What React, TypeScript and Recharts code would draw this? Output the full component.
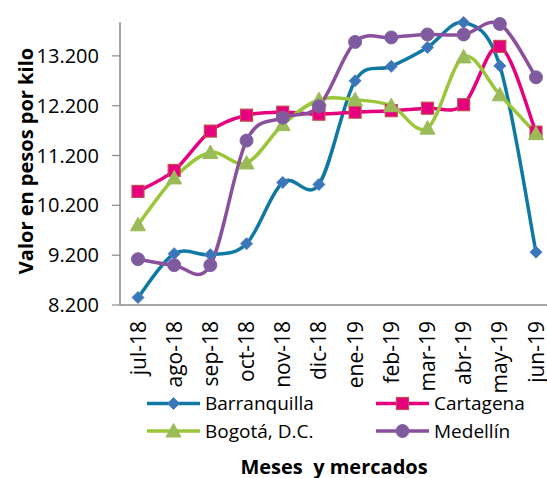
import { LineChart, Line, XAxis, YAxis, Legend, Label } from 'recharts';

const months = ['jul-18', 'ago-18', 'sep-18', 'oct-18', 'nov-18', 'dic-18', 'ene-19', 'feb-19', 'mar-19', 'abr-19', 'may-19', 'jun-19'];
const barranquilla = [8350, 9230, 9210, 9430, 10660, 10620, 12700, 12990, 13370, 13870, 13000, 9260];
const cartagena = [10480, 10900, 11690, 12010, 12070, 12030, 12070, 12100, 12150, 12220, 13390, 11670];
const bogota = [9810, 10750, 11260, 11050, 11820, 12320, 12320, 12200, 11750, 13180, 12420, 11640];
const medellin = [9120, 9000, 9000, 11500, 11960, 12190, 13480, 13570, 13630, 13630, 13840, 12770];
const yTicks = [8200, 9200, 10200, 11200, 12200, 13200];

const FONT = '"Open Sans", sans-serif';

const data = months.map((m, i) => ({
  month: m,
  barranquilla: barranquilla[i],
  cartagena: cartagena[i],
  bogota: bogota[i],
  medellin: medellin[i],
}));

const fmt = (v: number) => String(v).replace(/\B(?=(\d{3})+(?!\d))/g, '.');

// catmull-rom like smoothing, close to excel's smoothed lines
const smooth = (context: any) => {
  let xs: number[] = [];
  let ys: number[] = [];
  return {
    areaStart() {},
    areaEnd() {},
    lineStart() {
      xs = [];
      ys = [];
    },
    point(x: number, y: number) {
      xs.push(+x);
      ys.push(+y);
    },
    lineEnd() {
      const n = xs.length;
      if (!n) return;
      context.moveTo(xs[0], ys[0]);
      for (let i = 0; i < n - 1; i++) {
        const a = Math.max(i - 1, 0);
        const d = Math.min(i + 2, n - 1);
        context.bezierCurveTo(
          xs[i] + (xs[i + 1] - xs[a]) / 6,
          ys[i] + (ys[i + 1] - ys[a]) / 6,
          xs[i + 1] - (xs[d] - xs[i]) / 6,
          ys[i + 1] - (ys[d] - ys[i]) / 6,
          xs[i + 1],
          ys[i + 1]
        );
      }
    },
  };
};

const Marker = ({ kind, cx, cy, fill, stroke }: any) => {
  if (kind === 'diamond') {
    const r = 6;
    return <path d={`M${cx},${cy - r}L${cx + r},${cy}L${cx},${cy + r}L${cx - r},${cy}Z`} fill={fill} stroke={stroke} strokeWidth={1} />;
  }
  if (kind === 'square') {
    const r = 6;
    return <rect x={cx - r} y={cy - r} width={2 * r} height={2 * r} fill={fill} stroke={stroke} strokeWidth={1.2} />;
  }
  if (kind === 'triangle') {
    const r = 7.5;
    return <path d={`M${cx},${cy - r}L${cx + r},${cy + r * 0.8}L${cx - r},${cy + r * 0.8}Z`} fill={fill} stroke={stroke} strokeWidth={1} />;
  }
  return <circle cx={cx} cy={cy} r={6.5} fill={fill} stroke={stroke} strokeWidth={1} />;
};

const series = [
  { key: 'barranquilla', name: 'Barranquilla', color: '#0f79a3', fill: '#3b76ba', stroke: '#4f81bd', kind: 'diamond' },
  { key: 'cartagena', name: 'Cartagena', color: '#e6007e', fill: '#e6007e', stroke: '#c0504d', kind: 'square' },
  { key: 'bogota', name: 'Bogotá, D.C.', color: '#9cc639', fill: '#9bbb59', stroke: '#9bbb59', kind: 'triangle' },
  { key: 'medellin', name: 'Medellín', color: '#8a4f9d', fill: '#7f5a9f', stroke: '#8064a2', kind: 'circle' },
];

const MonthTick = ({ x, y, payload }: any) => (
  <g transform={`translate(${x},${y})`}>
    <text transform="rotate(-90)" textAnchor="end" dy="0.36em" fontSize={21} fontFamily={FONT} fill="#000">
      {payload.value}
    </text>
  </g>
);

const legendPos = [
  { x: 147, y: 25.5 },
  { x: 376, y: 25.5 },
  { x: 147, y: 53 },
  { x: 376, y: 53 },
];

const LegendBox = () => (
  <svg width={547} height={100} style={{ display: 'block' }}>
    {series.map((s, i) => {
      const p = legendPos[i];
      return (
        <g key={s.key}>
          <line x1={p.x} x2={p.x + 53} y1={p.y} y2={p.y} stroke={s.color} strokeWidth={3.5} />
          <Marker kind={s.kind} cx={p.x + 26.5} cy={p.y} fill={s.fill} stroke={s.stroke} />
          <text x={p.x + 58} y={p.y} dy="0.36em" fontSize={19} fontFamily={FONT} fill="#000">
            {s.name}
          </text>
        </g>
      );
    })}
    <text x={334} y={96} textAnchor="middle" fontSize={20} fontWeight="bold" fontFamily={FONT} fill="#000" style={{ whiteSpace: 'pre' }}>
      {'Meses  y mercados'}
    </text>
  </svg>
);

const YTitle = (props: any) => {
  const vb = props.viewBox || { x: 0, y: 0, height: 0 };
  const x = vb.x + 26;
  const y = vb.y + vb.height / 2 - 2.5;
  return (
    <text x={x} y={y} transform={`rotate(-90 ${x} ${y})`} textAnchor="middle" dy="0.36em" fontSize={20} fontWeight="bold" fontFamily={FONT} fill="#000">
      Valor en pesos por kilo
    </text>
  );
};

export default function App() {
  return (
    <div style={{ position: 'absolute', left: 0, top: 0, width: 547, height: 478, overflow: 'hidden', background: '#fff' }}>
      <LineChart width={560} height={478} data={data} margin={{ top: 22, right: 6, bottom: 0, left: 0 }}>
        <XAxis
          dataKey="month"
          interval={0}
          padding={{ left: 18, right: 18 }}
          tickLine={false}
          tickSize={0}
          tickMargin={16}
          height={73}
          tick={<MonthTick />}
          axisLine={{ stroke: '#8a8a8a', strokeWidth: 1.5 }}
        />
        <YAxis
          width={120}
          domain={[8200, 13880]}
          ticks={yTicks}
          interval={0}
          tickFormatter={fmt}
          tickSize={8}
          tickMargin={13}
          tick={{ fontSize: 20, fill: '#000', fontFamily: FONT }}
          tickLine={{ stroke: '#8a8a8a', strokeWidth: 1.2 }}
          axisLine={{ stroke: '#8a8a8a', strokeWidth: 1.5 }}
        >
          <Label content={<YTitle />} />
        </YAxis>
        <Legend verticalAlign="bottom" align="left" height={100} wrapperStyle={{ left: 0, width: 547 }} content={() => <LegendBox />} />
        {series.map((s) => (
          <Line
            key={s.key}
            dataKey={s.key}
            name={s.name}
            type={smooth as any}
            stroke={s.color}
            strokeWidth={3.5}
            isAnimationActive={false}
            activeDot={false}
            dot={(p: any) => <Marker key={`${s.key}-${p.index}`} kind={s.kind} cx={p.cx} cy={p.cy} fill={s.fill} stroke={s.stroke} />}
          />
        ))}
      </LineChart>
    </div>
  );
}
